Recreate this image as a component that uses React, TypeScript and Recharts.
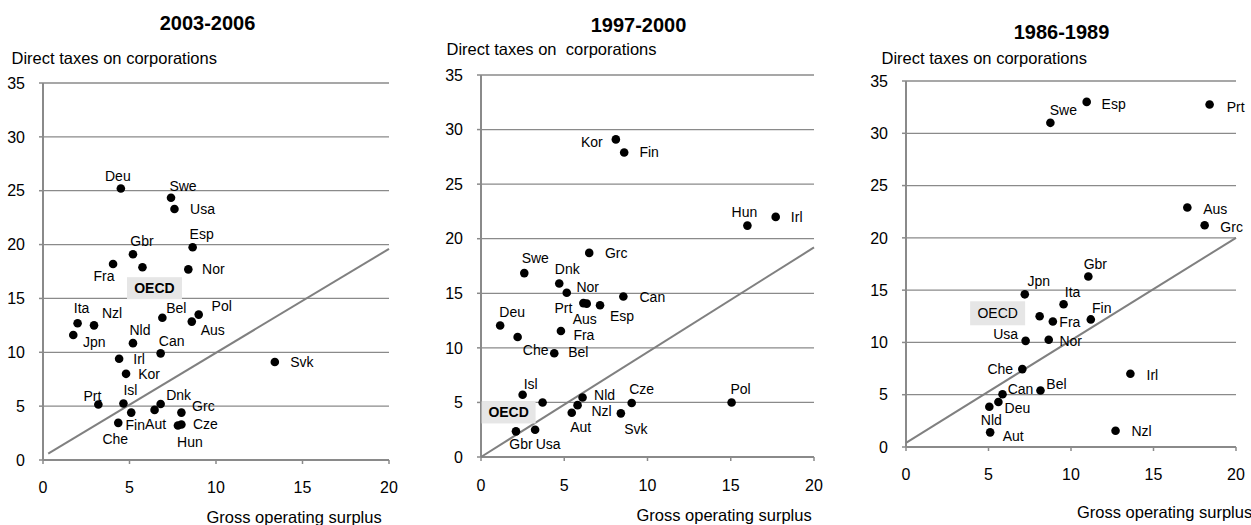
import React from "react";
import { ScatterChart, Scatter, XAxis, YAxis, CartesianGrid } from "recharts";

const FONT = "'Liberation Sans', Arial, sans-serif";
const GRAY = "#8a8a8a";

// 2003-2006
const names2006 = ["Deu", "Swe", "Usa", "Esp", "Gbr", "Fra", "OECD", "Nor", "Bel", "Pol", "Aus", "Ita", "Nzl", "Jpn", "Nld", "Can", "Irl", "Kor", "Svk", "Prt", "Isl", "Dnk", "Aut", "Fin", "Grc", "Che", "Hun", "Cze"];
const gos2006 = [4.5, 7.4, 7.6, 8.65, 5.2, 4.05, 5.75, 8.4, 6.9, 9.0, 8.6, 2.0, 2.95, 1.75, 5.2, 6.8, 4.4, 4.8, 13.4, 3.2, 4.65, 6.8, 6.45, 5.1, 8.0, 4.35, 7.8, 8.0];
const tax2006 = [25.2, 24.35, 23.3, 19.75, 19.1, 18.2, 17.9, 17.7, 13.2, 13.5, 12.85, 12.7, 12.5, 11.6, 10.85, 9.9, 9.4, 8.0, 9.1, 5.15, 5.25, 5.2, 4.65, 4.4, 4.4, 3.45, 3.2, 3.3];
const diagX2006 = [0.3, 20];
const diagY2006 = [0.6, 19.6];

// 1997-2000
const names2000 = ["Kor", "Fin", "Hun", "Irl", "Grc", "Swe", "Dnk", "Nor", "Prt", "Aus", "Esp", "Can", "Deu", "Che", "Fra", "Bel", "Isl", "OECD", "Nld", "Nzl", "Aut", "Cze", "Svk", "Gbr", "Usa", "Pol"];
const gos2000 = [8.1, 8.6, 16.0, 17.7, 6.5, 2.6, 4.7, 5.15, 6.15, 6.35, 7.15, 8.55, 1.15, 2.2, 4.8, 4.4, 2.5, 3.7, 6.1, 5.8, 5.45, 9.05, 8.4, 2.1, 3.25, 15.05];
const tax2000 = [29.1, 27.9, 21.2, 22.0, 18.7, 16.85, 15.9, 15.05, 14.1, 14.05, 13.9, 14.7, 12.05, 11.0, 11.55, 9.5, 5.7, 5.0, 5.45, 4.75, 4.05, 4.95, 4.0, 2.35, 2.5, 5.0];
const diagX2000 = [0, 20];
const diagY2000 = [0, 19.2];

// 1986-1989
const names1989 = ["Esp", "Swe", "Prt", "Aus", "Grc", "Gbr", "Jpn", "Ita", "OECD", "Fra", "Fin", "Usa", "Nor", "Che", "Irl", "Bel", "Can", "Deu", "Nld", "Aut", "Nzl"];
const gos1989 = [10.95, 8.75, 18.4, 17.05, 18.1, 11.05, 7.2, 9.55, 8.1, 8.9, 11.2, 7.25, 8.65, 7.05, 13.6, 8.15, 5.85, 5.6, 5.05, 5.1, 12.7];
const tax1989 = [33.0, 31.0, 32.75, 22.9, 21.2, 16.3, 14.6, 13.65, 12.5, 12.0, 12.2, 10.15, 10.25, 7.45, 7.0, 5.4, 5.05, 4.3, 3.85, 1.4, 1.55];
const diagX1989 = [0, 20];
const diagY1989 = [0.4, 20];

const xTicks = [0, 5, 10, 15, 20];
const yTicks = [0, 5, 10, 15, 20, 25, 30, 35];

// label offsets (px) from each dot
const off2006: Record<string, number[]> = {
  Deu: [-3, -13], Swe: [12, -12], Usa: [28, 0], Esp: [9, -13], Gbr: [9, -13], Fra: [-9, 12],
  OECD: [12, 21], Nor: [25, 0], Ita: [4, -15], Nzl: [18, -12], Bel: [14, -10], Pol: [23, -9],
  Aus: [21, 8], Jpn: [21, 7], Nld: [7, -13], Can: [11, -12], Irl: [20, 0], Kor: [23, 0],
  Svk: [27, 0], Prt: [-6, -9], Isl: [7, -13], Dnk: [18, -9], Grc: [22, -7], Fin: [4, 12],
  Aut: [1, 14], Cze: [24, 0], Che: [-3, 16], Hun: [12, 16],
};
const off2000: Record<string, number[]> = {
  Kor: [-24, 3], Fin: [25, 0], Hun: [-3, -14], Irl: [21, 0], Grc: [27, 0], Swe: [11, -15],
  Dnk: [8, -14], Nor: [21, -6], Prt: [-20, 5], Aus: [-2, 15], Esp: [22, 11], Can: [29, 0],
  Deu: [12, -13], Che: [18, 13], Fra: [23, 4], Bel: [24, -1], Isl: [8, -11], OECD: [-34, 10],
  Nld: [22, -3], Nzl: [24, 6], Aut: [9, 14], Cze: [10, -14], Svk: [15, 16], Gbr: [5, 13],
  Usa: [13, 14], Pol: [9, -13],
};
const off1989: Record<string, number[]> = {
  Esp: [27, 2], Swe: [13, -13], Prt: [26, 2], Aus: [28, 1], Grc: [27, 2], Gbr: [7, -13],
  Jpn: [14, -13], Ita: [9, -12], OECD: [-42, -3], Fra: [17, 0], Fin: [11, -11], Usa: [-20, -7],
  Nor: [22, 1], Che: [-22, 0], Irl: [22, 1], Bel: [16, -7], Can: [18, -5], Deu: [19, 6],
  Nld: [2, 13], Aut: [23, 4], Nzl: [26, 0],
};

const toRows = (names: string[], xs: number[], ys: number[]) =>
  names.map((name, i) => ({ name, x: xs[i], y: ys[i] }));
const toLine = (xs: number[], ys: number[]) => xs.map((x, i) => ({ x, y: ys[i] }));

type PanelProps = {
  left: number;
  width: number;
  height: number;
  margin: { top: number; right: number; bottom: number; left: number };
  data: { name: string; x: number; y: number }[];
  line: { x: number; y: number }[];
  offsets: Record<string, number[]>;
  oecdBold: boolean;
  box: number[];
  xTickMargin: number;
};

function Panel(p: PanelProps) {
  const shape = (props: any) => {
    const { cx, cy, payload } = props;
    const [dx, dy] = p.offsets[payload.name] || [0, -12];
    const isOecd = payload.name === "OECD";
    return (
      <g>
        <circle cx={cx} cy={cy} r={4.3} fill="#000" />
        {isOecd && (
          <rect
            x={cx + dx - p.box[0] / 2}
            y={cy + dy - p.box[1] / 2}
            width={p.box[0]}
            height={p.box[1]}
            fill="#e6e6e6"
          />
        )}
        <text
          x={cx + dx}
          y={cy + dy}
          textAnchor="middle"
          dominantBaseline="central"
          fontSize={14}
          fontFamily={FONT}
          fontWeight={isOecd && p.oecdBold ? "bold" : "normal"}
          fill="#000"
        >
          {payload.name}
        </text>
      </g>
    );
  };

  return (
    <div style={{ position: "absolute", left: p.left, top: 0 }}>
      <ScatterChart width={p.width} height={p.height} margin={p.margin}>
        <CartesianGrid vertical={false} stroke={GRAY} strokeWidth={1.3} />
        <XAxis
          type="number"
          dataKey="x"
          domain={[0, 20]}
          ticks={xTicks}
          height={30}
          tickSize={4}
          tickMargin={p.xTickMargin}
          axisLine={{ stroke: GRAY, strokeWidth: 2 }}
          tickLine={{ stroke: GRAY, strokeWidth: 1.5 }}
          tick={{ fontSize: 16, fill: "#000", fontFamily: FONT }}
        />
        <YAxis
          type="number"
          dataKey="y"
          domain={[0, 35]}
          ticks={yTicks}
          width={30}
          tickSize={4}
          tickMargin={14}
          axisLine={{ stroke: GRAY, strokeWidth: 2 }}
          tickLine={{ stroke: GRAY, strokeWidth: 1.5 }}
          tick={{ fontSize: 16, fill: "#000", fontFamily: FONT }}
        />
        <Scatter
          data={p.line}
          line={{ stroke: "#808080", strokeWidth: 2 }}
          shape={() => <g />}
          legendType="none"
          isAnimationActive={false}
        />
        <Scatter data={p.data} shape={shape} isAnimationActive={false} />
      </ScatterChart>
    </div>
  );
}

const txt = { fontFamily: FONT, fill: "#000" };

export default function App() {
  return (
    <div style={{ position: "absolute", left: 0, top: 0, width: 1251, height: 525, background: "#fff", overflow: "hidden" }}>
      <Panel
        left={0}
        width={420}
        height={525}
        margin={{ top: 83, right: 31, bottom: 35, left: 13 }}
        data={toRows(names2006, gos2006, tax2006)}
        line={toLine(diagX2006, diagY2006)}
        offsets={off2006}
        oecdBold={true}
        box={[55, 22]}
        xTickMargin={18}
      />
      <Panel
        left={420}
        width={420}
        height={525}
        margin={{ top: 75, right: 26, bottom: 38, left: 31 }}
        data={toRows(names2000, gos2000, tax2000)}
        line={toLine(diagX2000, diagY2000)}
        offsets={off2000}
        oecdBold={true}
        box={[54, 22]}
        xTickMargin={19}
      />
      <Panel
        left={840}
        width={411}
        height={525}
        margin={{ top: 81, right: 15, bottom: 48, left: 36 }}
        data={toRows(names1989, gos1989, tax1989)}
        line={toLine(diagX1989, diagY1989)}
        offsets={off1989}
        oecdBold={false}
        box={[55, 24]}
        xTickMargin={18}
      />
      <svg width={1251} height={525} style={{ position: "absolute", left: 0, top: 0, pointerEvents: "none" }}>
        <text x={207.5} y={23} textAnchor="middle" dominantBaseline="central" fontSize={20} fontWeight="bold" {...txt}>2003-2006</text>
        <text x={638.5} y={25} textAnchor="middle" dominantBaseline="central" fontSize={20} fontWeight="bold" {...txt}>1997-2000</text>
        <text x={1061.5} y={32} textAnchor="middle" dominantBaseline="central" fontSize={20} fontWeight="bold" {...txt}>1986-1989</text>
        <text x={11.5} y={58} dominantBaseline="central" fontSize={16.5} {...txt}>Direct taxes on corporations</text>
        <text x={446.5} y={49} dominantBaseline="central" fontSize={16.5} style={{ whiteSpace: "pre" }} {...txt}>Direct taxes on  corporations</text>
        <text x={881.5} y={58} dominantBaseline="central" fontSize={16.5} {...txt}>Direct taxes on corporations</text>
        <text x={206.5} y={517} dominantBaseline="central" fontSize={16.5} {...txt}>Gross operating surplus</text>
        <text x={636.5} y={515} dominantBaseline="central" fontSize={16.5} {...txt}>Gross operating surplus</text>
        <text x={1077} y={512} dominantBaseline="central" fontSize={16.5} {...txt}>Gross operating surplus</text>
      </svg>
    </div>
  );
}
